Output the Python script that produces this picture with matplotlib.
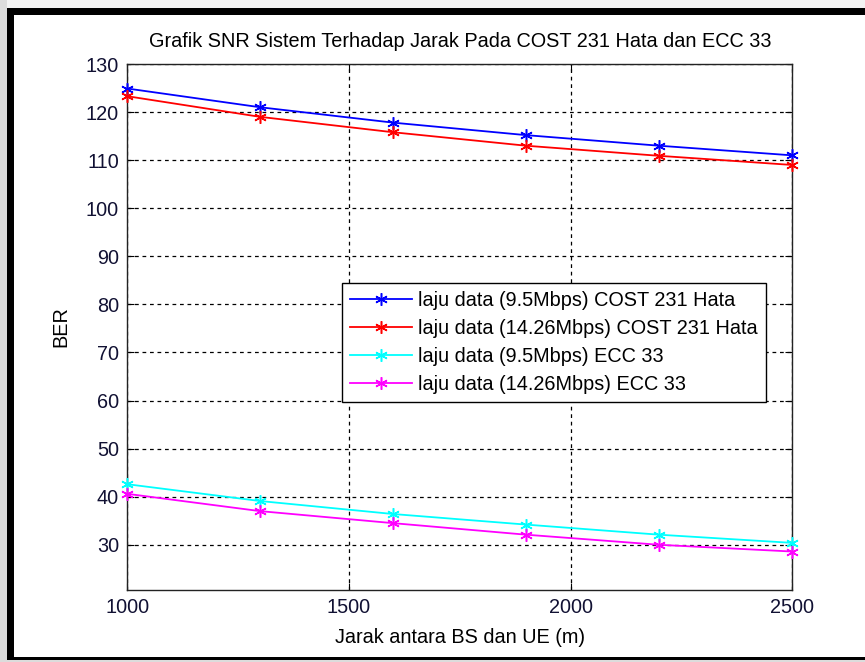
import matplotlib
matplotlib.use("Agg")
import matplotlib.pyplot as plt
from matplotlib.patches import Rectangle

# Data: distance (m) vs. SNR-type metric for two propagation models
jarak = [1000, 1300, 1600, 1900, 2200, 2500]
cost_9_5 = [124.9, 121.0, 117.8, 115.2, 113.0, 111.0]
cost_14_26 = [123.3, 119.0, 115.8, 113.0, 110.9, 109.0]
ecc_9_5 = [42.6, 39.1, 36.4, 34.2, 32.1, 30.4]
ecc_14_26 = [40.6, 37.0, 34.5, 32.1, 30.0, 28.6]

labels = [
    "laju data (9.5Mbps) COST 231 Hata",
    "laju data (14.26Mbps) COST 231 Hata",
    "laju data (9.5Mbps) ECC 33",
    "laju data (14.26Mbps) ECC 33",
]
colors = ["#0000ff", "#ff0000", "#00ffff", "#ff00ff"]
x_ticks = [1000, 1500, 2000, 2500]
y_ticks = [30, 40, 50, 60, 70, 80, 90, 100, 110, 120, 130]

plt.rcParams["font.family"] = ["Liberation Sans", "DejaVu Sans"]
fsize = 14.3

W, H = 865, 662
fig = plt.figure(figsize=(W / 100, H / 100), dpi=100, facecolor="white")


def px_rect(x0, y0, x1, y1, color):
    fig.add_artist(Rectangle((x0 / W, 1 - y1 / H), (x1 - x0) / W, (y1 - y0) / H,
                             transform=fig.transFigure, facecolor=color,
                             edgecolor="none", zorder=0))


# surrounding frame
px_rect(0, 0, W, 8, "#f3f3f3")
px_rect(0, 0, 7, H, "#dcdcdc")
px_rect(0, 660, W, H, "#dcdcdc")
px_rect(7, 8, W, 15, "black")
px_rect(7, 8, 14, 660, "black")
px_rect(7, 657, W, 660, "black")

ax = fig.add_axes([127.3 / W, 1 - 590 / H, (792.3 - 127.3) / W, (590 - 64) / H])

series = [cost_9_5, cost_14_26, ecc_9_5, ecc_14_26]
for vals, c, lab in zip(series, colors, labels):
    ax.plot(jarak, vals, color=c, lw=1.3, marker=(6, 2, 0), ms=9, mew=1.1,
            label=lab, clip_on=False, zorder=3)

ax.set_xlim(1000, 2500)
ax.set_ylim(20.6, 130)
ax.set_xticks(x_ticks)
ax.set_yticks(y_ticks)
ax.grid(True, color="black", linestyle=(0, (3, 3)), linewidth=0.9)
ax.tick_params(direction="in", length=5, width=0.8, labelsize=fsize,
               top=True, right=True, pad=6, labelcolor="#111133")
for s in ax.spines.values():
    s.set_linewidth(1.0)
    s.set_color("#222222")

ax.set_title("Grafik SNR Sistem Terhadap Jarak Pada COST 231 Hata dan ECC 33",
             fontsize=fsize, pad=12)
ax.set_xlabel("Jarak antara BS dan UE (m)", fontsize=fsize, labelpad=8)
ax.set_ylabel("BER", fontsize=fsize, labelpad=11)

leg = ax.legend(loc="upper left", bbox_to_anchor=((342 - 127.3) / 665, 1 - (283 - 64) / 526),
                fontsize=fsize, fancybox=False, framealpha=1, edgecolor="black",
                handlelength=3.1, handletextpad=0.35, borderpad=0.4, labelspacing=0.45,
                borderaxespad=0)
leg.get_frame().set_linewidth(1.0)

fig.savefig("out.png", dpi=100, facecolor=fig.get_facecolor())
